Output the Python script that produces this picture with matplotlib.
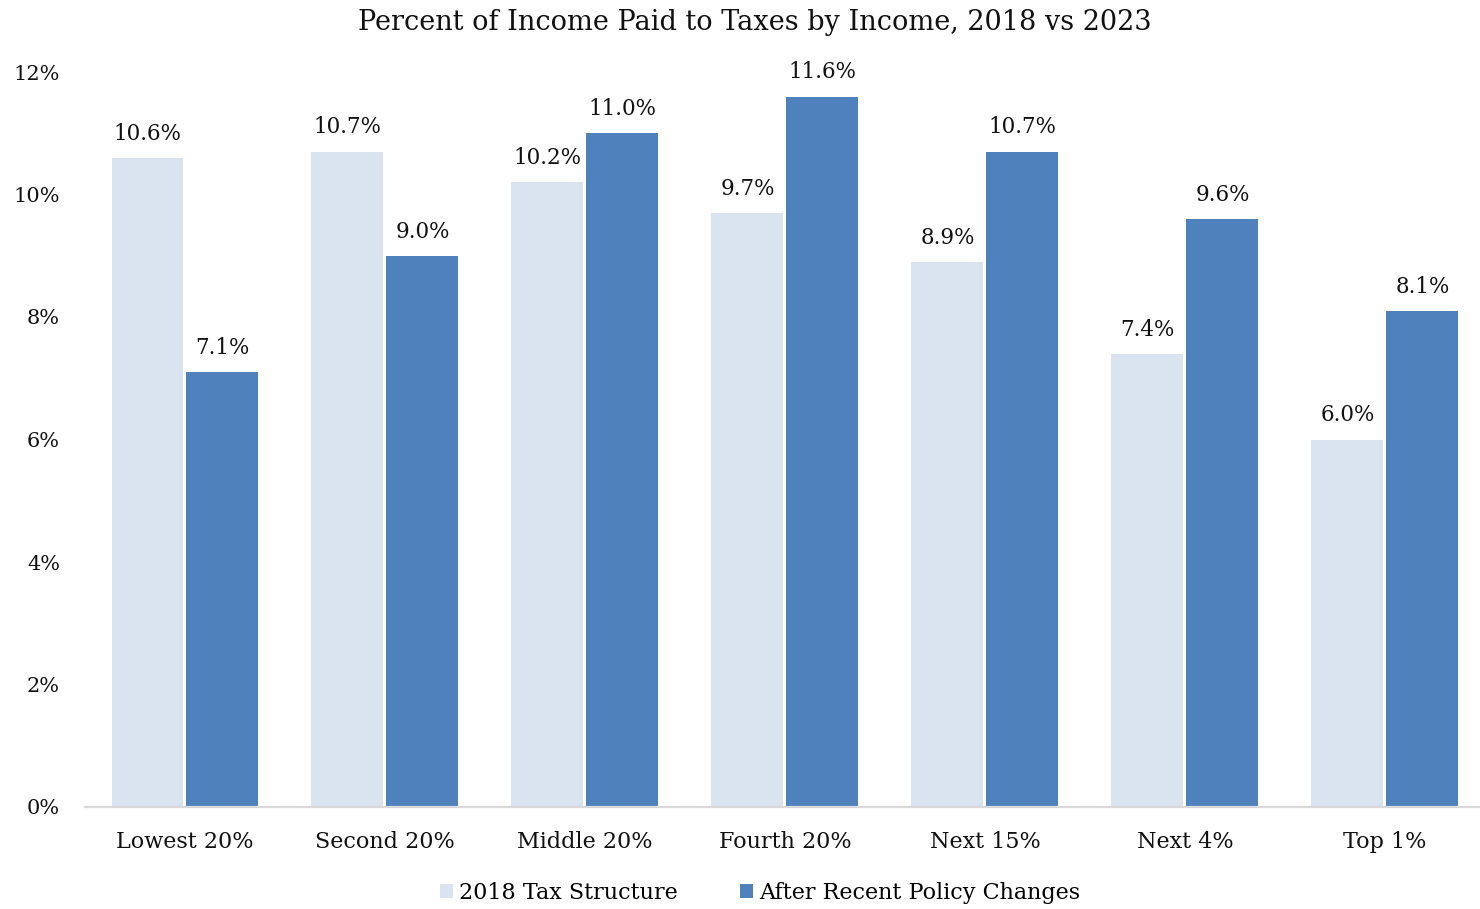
import numpy as np
import matplotlib
matplotlib.use("Agg")
import matplotlib.pyplot as plt
from matplotlib.ticker import FuncFormatter

OUTPUT_FILE = "out.png"

CATEGORIES = ["Lowest 20%", "Second 20%", "Middle 20%", "Fourth 20%",
              "Next 15%", "Next 4%", "Top 1%"]
TAX_2018   = [10.6, 10.7, 10.2, 9.7, 8.9, 7.4, 6.0]
TAX_2023   = [7.1, 9.0, 11.0, 11.6, 10.7, 9.6, 8.1]
SERIES     = ["2018 Tax Structure", "After Recent Policy Changes"]
Y_TICKS    = [0, 2, 4, 6, 8, 10, 12]

COLOR_LIGHT = "#DAE3F0"
COLOR_DARK  = "#4F81BD"
COLOR_AXIS  = "#D9D9D9"
COLOR_TEXT  = "#111111"

plt.rcParams["font.family"] = ["DejaVu Serif"]


def main():
    fig = plt.figure(figsize=(14.8, 9.09), dpi=100)
    ax = fig.add_axes([85 / 1480, 102 / 909, 1400 / 1480, 735 / 909])

    x = np.arange(len(CATEGORIES))
    width = 0.36
    off = 0.1875

    b1 = ax.bar(x - off, TAX_2018, width, color=COLOR_LIGHT, label=SERIES[0], zorder=2)
    b2 = ax.bar(x + off, TAX_2023, width, color=COLOR_DARK, label=SERIES[1], zorder=2)

    # value labels above every bar
    for bars, vals in ((b1, TAX_2018), (b2, TAX_2023)):
        for rect, v in zip(bars, vals):
            ax.annotate(f"{v:.1f}%", (rect.get_x() + rect.get_width() / 2, v),
                        xytext=(0, 9.5), textcoords="offset points",
                        ha="center", va="bottom", fontsize=15.5, color=COLOR_TEXT)

    ax.set_xlim(-0.5, len(CATEGORIES) - 0.5)
    ax.set_ylim(0, 12)
    ax.set_yticks(Y_TICKS)
    ax.yaxis.set_major_formatter(FuncFormatter(lambda v, _: f"{v:.0f}%"))
    ax.set_xticks(x)
    ax.set_xticklabels(CATEGORIES)
    ax.tick_params(axis="y", length=0, pad=18, labelsize=15, labelcolor=COLOR_TEXT)
    ax.tick_params(axis="x", length=0, pad=17, labelsize=16, labelcolor=COLOR_TEXT)

    for side in ("top", "right", "left"):
        ax.spines[side].set_visible(False)
    ax.spines["bottom"].set_color(COLOR_AXIS)
    ax.spines["bottom"].set_linewidth(1.6)

    fig.text(755 / 1480, 1 - 22 / 909, "Percent of Income Paid to Taxes by Income, 2018 vs 2023",
             ha="center", va="center", fontsize=19.5, color=COLOR_TEXT)

    fig.legend(handles=[b1, b2], labels=SERIES, loc="center",
               bbox_to_anchor=(760 / 1480, 1 - 893 / 909), ncol=2, frameon=False,
               fontsize=16, handlelength=0.6, handleheight=0.6, handletextpad=0.25,
               columnspacing=2.8)

    fig.savefig(OUTPUT_FILE, dpi=100)
    plt.close(fig)


if __name__ == "__main__":
    main()
